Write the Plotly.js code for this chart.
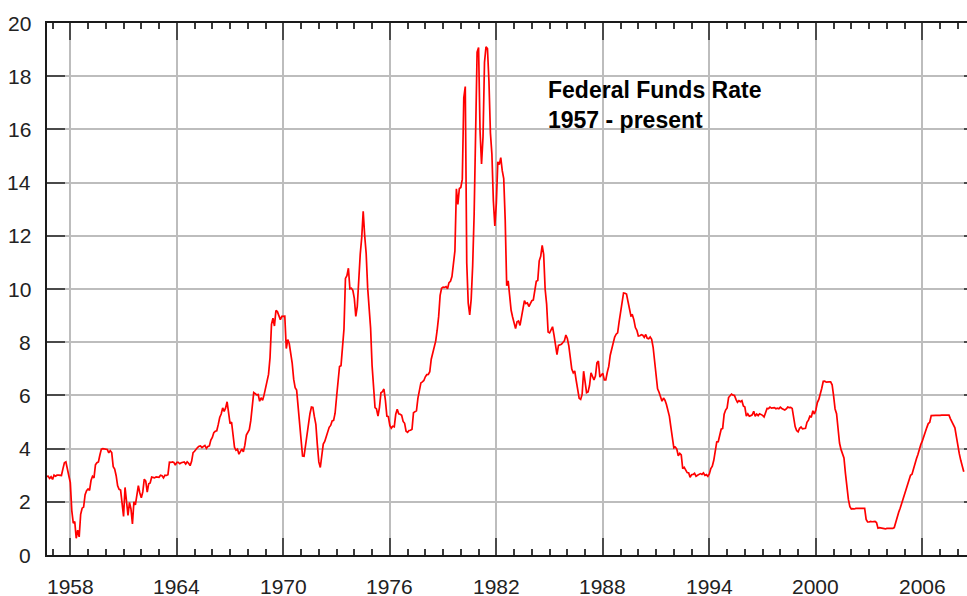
<!DOCTYPE html>
<html>
<head>
<meta charset="utf-8">
<script src="https://cdn.plot.ly/plotly-3.0.1.min.js"></script>
<style>
  html, body { margin: 0; padding: 0; overflow: hidden; background: #fff; }
  #chart { width: 982px; height: 596px; }
</style>
</head>
<body>
<div id="chart"></div>
<script>
// Monthly effective federal funds rate (%), first value = September 1956
const startYear = 1956;
const startMonth = 9;

const rates1950s = [
  2.95, 2.96, 2.88, 2.94,
  2.84, 3.00, 2.96, 3.00, 3.00, 3.00, 2.99, 3.24, 3.47, 3.50, 3.28, 2.98,
  2.72, 1.67, 1.20, 1.26, 0.63, 0.93, 0.68, 1.53, 1.76, 1.80, 2.27, 2.42,
  2.48, 2.43, 2.80, 2.96, 2.90, 3.39, 3.47, 3.50, 3.76, 3.98, 4.00, 3.99
];
const rates1960s = [
  3.99, 3.97, 3.84, 3.92, 3.85, 3.32, 3.23, 2.98, 2.60, 2.47, 2.44, 1.98,
  1.45, 2.54, 2.02, 1.49, 1.98, 1.73, 1.17, 2.00, 1.88, 2.26, 2.61, 2.33,
  2.15, 2.37, 2.85, 2.78, 2.36, 2.68, 2.71, 2.93, 2.90, 2.90, 2.94, 2.93,
  2.92, 3.00, 2.98, 2.90, 3.00, 2.99, 3.02, 3.49, 3.48, 3.50, 3.48, 3.38,
  3.48, 3.48, 3.43, 3.47, 3.50, 3.50, 3.42, 3.50, 3.45, 3.36, 3.52, 3.85,
  3.90, 3.98, 4.04, 4.09, 4.10, 4.04, 4.09, 4.12, 4.01, 4.08, 4.10, 4.32,
  4.42, 4.60, 4.65, 4.67, 4.90, 5.17, 5.30, 5.53, 5.40, 5.53, 5.76, 5.40,
  4.94, 5.00, 4.53, 4.05, 3.94, 3.98, 3.79, 3.90, 3.99, 3.88, 4.13, 4.51,
  4.61, 4.71, 5.05, 5.76, 6.11, 6.07, 6.02, 6.03, 5.78, 5.91, 5.82, 6.02,
  6.30, 6.61, 6.79, 7.41, 8.67, 8.90, 8.61, 9.19, 9.15, 9.00, 8.85, 8.97
];
const rates1970s = [
  8.98, 8.98, 7.76, 8.10, 7.95, 7.61, 7.21, 6.61, 6.29, 6.20, 5.60, 4.90,
  4.14, 3.72, 3.71, 4.16, 4.63, 4.91, 5.31, 5.56, 5.55, 5.20, 4.91, 4.14,
  3.50, 3.29, 3.83, 4.17, 4.27, 4.46, 4.55, 4.80, 4.87, 5.04, 5.06, 5.33,
  5.94, 6.58, 7.09, 7.12, 7.84, 8.49, 10.40, 10.50, 10.78, 10.01, 10.03, 9.95,
  9.65, 8.97, 9.35, 10.51, 11.31, 11.93, 12.92, 12.01, 11.34, 10.06, 9.45, 8.53,
  7.13, 6.24, 5.54, 5.49, 5.22, 5.55, 6.10, 6.14, 6.24, 5.82, 5.22, 5.20,
  4.87, 4.77, 4.84, 4.82, 5.29, 5.48, 5.31, 5.29, 5.25, 5.02, 4.95, 4.65,
  4.61, 4.68, 4.69, 4.73, 5.35, 5.39, 5.42, 5.90, 6.14, 6.47, 6.51, 6.56,
  6.70, 6.78, 6.79, 6.89, 7.36, 7.60, 7.81, 8.04, 8.45, 8.96, 9.76, 10.03,
  10.07, 10.06, 10.09, 10.01, 10.24, 10.29, 10.47, 10.94, 11.43, 13.77, 13.18, 13.78
];
const rates1980s = [
  13.82, 14.13, 17.19, 17.61, 10.98, 9.47, 9.03, 9.61, 10.87, 12.81, 15.85, 18.90,
  19.08, 15.93, 14.70, 15.72, 18.52, 19.10, 19.04, 17.82, 15.87, 15.08, 13.31, 12.37,
  13.22, 14.78, 14.68, 14.94, 14.45, 14.15, 12.59, 10.12, 10.31, 9.71, 9.20, 8.95,
  8.68, 8.51, 8.77, 8.80, 8.63, 8.98, 9.37, 9.56, 9.45, 9.48, 9.34, 9.47,
  9.56, 9.59, 9.91, 10.29, 10.32, 11.06, 11.23, 11.64, 11.30, 9.99, 9.43, 8.38,
  8.35, 8.50, 8.58, 8.27, 7.97, 7.53, 7.88, 7.90, 7.92, 7.99, 8.05, 8.27,
  8.14, 7.86, 7.48, 6.99, 6.85, 6.92, 6.56, 6.17, 5.89, 5.85, 6.04, 6.91,
  6.43, 6.10, 6.13, 6.37, 6.85, 6.73, 6.58, 6.73, 7.22, 7.29, 6.69, 6.77,
  6.83, 6.58, 6.58, 6.87, 7.09, 7.51, 7.75, 8.01, 8.19, 8.30, 8.35, 8.76,
  9.12, 9.36, 9.85, 9.84, 9.81, 9.53, 9.24, 8.99, 9.02, 8.84, 8.55, 8.45
];
const rates1990s = [
  8.23, 8.24, 8.28, 8.26, 8.18, 8.29, 8.15, 8.13, 8.20, 8.11, 7.81, 7.31,
  6.91, 6.25, 6.12, 5.91, 5.78, 5.90, 5.82, 5.66, 5.45, 5.21, 4.81, 4.43,
  4.03, 4.06, 3.98, 3.73, 3.82, 3.76, 3.25, 3.30, 3.22, 3.10, 3.09, 2.92,
  3.02, 3.03, 3.07, 2.96, 3.00, 3.04, 3.06, 3.03, 3.09, 2.99, 3.02, 2.96,
  3.05, 3.25, 3.34, 3.56, 4.01, 4.25, 4.26, 4.47, 4.73, 4.76, 5.29, 5.45,
  5.53, 5.92, 5.98, 6.05, 6.01, 6.00, 5.85, 5.74, 5.80, 5.76, 5.80, 5.60,
  5.56, 5.22, 5.31, 5.22, 5.24, 5.27, 5.40, 5.22, 5.30, 5.24, 5.31, 5.29,
  5.25, 5.19, 5.39, 5.51, 5.50, 5.56, 5.52, 5.54, 5.54, 5.50, 5.52, 5.50,
  5.56, 5.51, 5.49, 5.45, 5.49, 5.56, 5.54, 5.55, 5.51, 5.07, 4.83, 4.68,
  4.63, 4.76, 4.81, 4.74, 4.74, 4.76, 4.99, 5.07, 5.22, 5.20, 5.42, 5.30
];
const rates2000s = [
  5.45, 5.73, 5.85, 6.02, 6.27, 6.53, 6.54, 6.50, 6.52, 6.51, 6.51, 6.40,
  5.98, 5.49, 5.31, 4.80, 4.21, 3.97, 3.77, 3.65, 3.07, 2.49, 2.09, 1.82,
  1.73, 1.74, 1.73, 1.75, 1.75, 1.75, 1.73, 1.74, 1.75, 1.75, 1.34, 1.24,
  1.24, 1.26, 1.25, 1.26, 1.26, 1.22, 1.01, 1.03, 1.01, 1.01, 1.00, 0.98,
  1.00, 1.01, 1.00, 1.00, 1.00, 1.03, 1.26, 1.43, 1.61, 1.76, 1.93, 2.16,
  2.28, 2.50, 2.63, 2.79, 3.00, 3.04, 3.26, 3.50, 3.62, 3.78, 4.00, 4.16,
  4.29, 4.49, 4.59, 4.79, 4.94, 4.99, 5.24, 5.25, 5.25, 5.25, 5.25, 5.24,
  5.25, 5.26, 5.26, 5.25, 5.25, 5.25, 5.26, 5.12, 5.00, 4.90, 4.78, 4.45,
  4.07, 3.80, 3.55, 3.35, 3.13
];

const yearTicks = [1958, 1964, 1970, 1976, 1982, 1988, 1994, 2000, 2006];
const yTicks = [0, 2, 4, 6, 8, 10, 12, 14, 16, 18, 20];
const xRange = [1956.687, 2009.36];
const yRange = [0, 20];
const titleLines = ["Federal Funds Rate", "1957 - present"];

const rates = [].concat(rates1950s, rates1960s, rates1970s, rates1980s, rates1990s, rates2000s);
const years = rates.map((_, i) => startYear + (startMonth - 1 + i) / 12);

const trace = {
  x: years,
  y: rates,
  type: 'scatter',
  mode: 'lines',
  line: { color: '#ff0000', width: 1.7 },
  hoverinfo: 'skip'
};

const gridColor = '#bdbdbd';
const tickColor = '#4a4a4a';
const fontFamily = 'Liberation Sans, Arial, Helvetica, sans-serif';
const tickFont = { family: fontFamily, size: 21, color: '#222222' };

// tick labels placed just outside the frame
const xLabelAnnotations = yearTicks.map(v => ({
  xref: 'x', yref: 'paper', x: v, y: -0.059,
  xanchor: 'center', yanchor: 'middle',
  text: String(v), showarrow: false, font: tickFont
}));
const yLabelAnnotations = yTicks.map(v => ({
  xref: 'paper', yref: 'y', x: -0.0145, y: v,
  xanchor: 'right', yanchor: 'middle',
  text: String(v), showarrow: false, font: tickFont
}));

const layout = {
  width: 982,
  height: 596,
  margin: { l: 47, r: 0, t: 23, b: 41, pad: 0 },
  paper_bgcolor: '#ffffff',
  plot_bgcolor: '#ffffff',
  showlegend: false,
  font: { family: fontFamily, color: '#222222', size: 21 },
  xaxis: {
    range: xRange,
    tickmode: 'linear',
    tick0: yearTicks[0],
    dtick: yearTicks[1] - yearTicks[0],
    ticks: 'inside',
    ticklen: 17,
    tickwidth: 2,
    tickcolor: tickColor,
    showticklabels: false,
    showgrid: true,
    gridcolor: gridColor,
    gridwidth: 2,
    showline: true,
    linecolor: '#1a1a1a',
    linewidth: 2,
    mirror: 'ticks',
    zeroline: false,
    minor: { dtick: 1, ticks: 'inside', ticklen: 6, tickwidth: 2, tickcolor: '#3a3a3a', showgrid: false }
  },
  yaxis: {
    range: yRange,
    tickmode: 'linear',
    tick0: yTicks[0],
    dtick: yTicks[1] - yTicks[0],
    ticks: 'inside',
    ticklen: 18,
    tickwidth: 2,
    tickcolor: tickColor,
    showticklabels: false,
    showgrid: true,
    gridcolor: gridColor,
    gridwidth: 2,
    showline: true,
    linecolor: '#1a1a1a',
    linewidth: 2,
    mirror: 'ticks',
    zeroline: false
  },
  annotations: [{
    xref: 'x', yref: 'y',
    x: 1984.8, y: 16.92,
    xanchor: 'left', yanchor: 'middle',
    align: 'left',
    showarrow: false,
    text: titleLines.join('<br>'),
    font: { family: fontFamily, size: 23, color: '#000000', weight: 'bold' }
  }].concat(xLabelAnnotations, yLabelAnnotations)
};

Plotly.newPlot('chart', [trace], layout, { displayModeBar: false });
</script>
</body>
</html>
